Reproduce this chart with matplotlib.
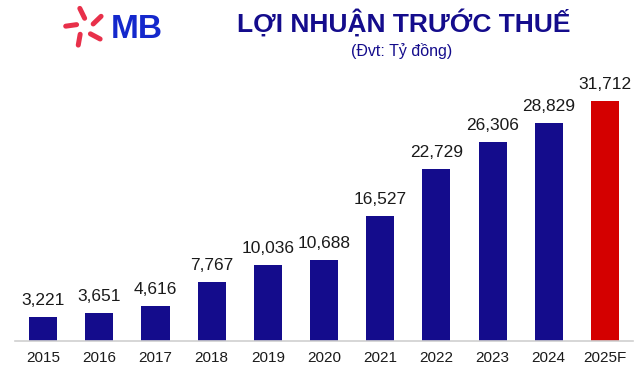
import numpy as np
import matplotlib
matplotlib.use('Agg')
import matplotlib.pyplot as plt
from matplotlib.lines import Line2D

plt.rcParams['font.family'] = ['Liberation Sans', 'DejaVu Sans']

# Data
years = ['2015', '2016', '2017', '2018', '2019', '2020', '2021', '2022', '2023', '2024', '2025F']
profit = [3221, 3651, 4616, 7767, 10036, 10688, 16527, 22729, 26306, 28829, 31712]

NAVY = '#140C8C'
RED = '#D40000'
W, H = 639, 374

fig = plt.figure(figsize=(W / 100, H / 100), dpi=100)

# axes placed in pixel terms: baseline at y=341, left 15, right 633
ax = fig.add_axes([15 / W, 33 / H, 618 / W, 272.5 / H])
colors = [NAVY] * (len(years) - 1) + [RED]
x = np.arange(len(years))
bars = ax.bar(x, profit, width=0.5, color=colors)
ax.set_xlim(-0.5, len(years) - 0.5)
ax.set_ylim(0, 36000)

for b, v in zip(bars, profit):
    ax.annotate(f'{v:,}', (b.get_x() + b.get_width() / 2, v), xytext=(0, 6.5),
                textcoords='offset points', ha='center', va='bottom',
                fontsize=12.5, color='#1a1a1a')

ax.set_xticks(x)
ax.set_xticklabels(years, fontsize=11, color='#1a1a1a')
ax.tick_params(axis='x', length=0, pad=7)
ax.set_yticks([])
for s in ['top', 'right', 'left']:
    ax.spines[s].set_visible(False)
ax.spines['bottom'].set_color('#d0d0d0')
ax.spines['bottom'].set_linewidth(1.2)

# title
fig.text(404 / W, 1 - 23 / H, 'LỢI NHUẬN TRƯỚC THUẾ', ha='center', va='center',
         fontsize=19, fontweight='bold', color=NAVY)
fig.text(402 / W, 1 - 51 / H, '(Đvt: Tỷ đồng)', ha='center', va='center',
         fontsize=11.5, color=NAVY)

# MB logo: pinwheel of rounded strokes + text
cx, cy = 85, 27
for k in range(5):
    th = np.deg2rad(100 + 72 * k)
    d = np.array([np.cos(th), np.sin(th)])
    p = np.array([-d[1], d[0]])
    a = np.array([cx, cy]) + d * 8 + p * 3.5
    b = np.array([cx, cy]) + d * 19 + p * 3.5
    fig.add_artist(Line2D([a[0] / W, b[0] / W], [1 - a[1] / H, 1 - b[1] / H],
                          transform=fig.transFigure, color='#E8304A',
                          linewidth=3.6, solid_capstyle='round'))
fig.text(111 / W, 1 - 29 / H, 'MB', ha='left', va='center', fontsize=24,
         fontweight='bold', color='#1428CC')

fig.savefig('out.png', dpi=100)
